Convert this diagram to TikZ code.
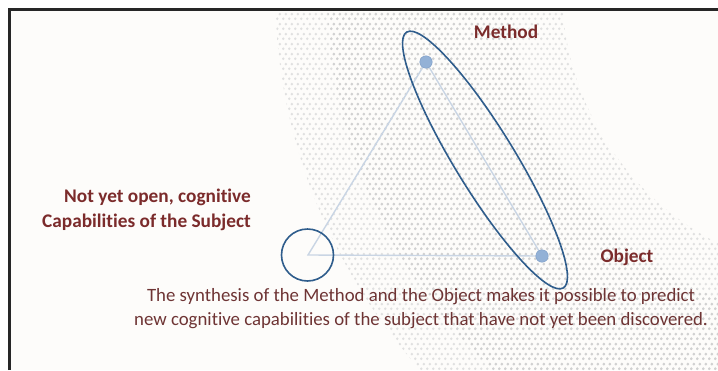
\documentclass[tikz,border=0pt]{standalone}
\usepackage{fontspec}
\setmainfont{Carlito}[Ligatures=NoCommon]
\usetikzlibrary{shapes.geometric,patterns.meta}
\definecolor{lblred}{HTML}{7B2B2B}
\definecolor{txtred}{HTML}{6E3434}
\definecolor{triline}{HTML}{C9D5E4}
\definecolor{ringblue}{HTML}{2F5D8C}
\definecolor{dotfill}{HTML}{93B1D6}
\definecolor{dotedge}{HTML}{7F9FC8}
\definecolor{paper}{HTML}{FDFCFA}
\definecolor{framec}{HTML}{262626}
\tikzdeclarepattern{
  name=hexdots,
  type=uncolored,
  bottom left={(0pt,0pt)},
  top right={(6pt,10pt)},
  tile size={(6pt,10pt)},
  code={
    \fill (1.5pt,2.5pt) circle [radius=1.6pt];
    \fill (4.5pt,7.5pt) circle [radius=1.6pt];
  }
}
\tikzset{
  lbl/.style={font={\fontsize{19.3}{25}\selectfont\bfseries}, text=lblred, inner sep=0pt},
  txt/.style={font={\fontsize{18.8}{24}\selectfont}, text=txtred, inner sep=0pt, align=center},
  tri/.style={draw=triline, line width=1.4pt},
  ring/.style={draw=ringblue, line width=1.6pt},
  pt/.style={circle, fill=dotfill, draw=dotedge, line width=0.4pt, minimum size=12.5pt, inner sep=0pt},
}
\begin{document}
\begin{tikzpicture}[x=1pt,y=-1pt]
\useasboundingbox (0,0) rectangle (718,370);
\fill[white] (0,0) rectangle (718,370);
\fill[paper] (9.5,9.5) rectangle (718,370);
% dotted band
\begin{scope}
  \clip (11,11) rectangle (718,370);
  \fill[pattern=hexdots, pattern color=black!12, even odd rule]
     (847,-11) circle [radius=572] (847,-11) circle [radius=285];
  \fill[pattern=hexdots, pattern color=black!18, even odd rule]
     (847,-11) circle [radius=520] (847,-11) circle [radius=335];
\end{scope}
% frame
\draw[framec, line width=3pt] (9.5,370) -- (9.5,9.5) -- (718,9.5);
% triangle
\coordinate (S) at (308,255);
\coordinate (M) at (426,62);
\coordinate (O) at (542,256);
\draw[tri] (S) -- (M) -- (O) -- cycle;
\node[pt] (meth) at (M) {};
\node[pt] (obj) at (O) {};
\node[ring, circle, minimum size=52pt, inner sep=0pt] (subj) at (307.5,255) {};
\node[ring, ellipse, minimum width=300pt, minimum height=60pt, inner sep=0pt, rotate=-58.5] (pair) at (485,160) {};
% labels
\node[lbl] (methl) at (506,32) {Method};
\node[lbl] (objl) at (627,257) {Object};
\node[lbl, align=right, anchor=east] (subjl) at (251,210) {Not yet open, cognitive\\Capabilities of the Subject};
\node[txt] (syn) at (421,309) {The synthesis of the Method and the Object makes it possible to predict\\new cognitive capabilities of the subject that have not yet been discovered.};
\end{tikzpicture}
\end{document}
